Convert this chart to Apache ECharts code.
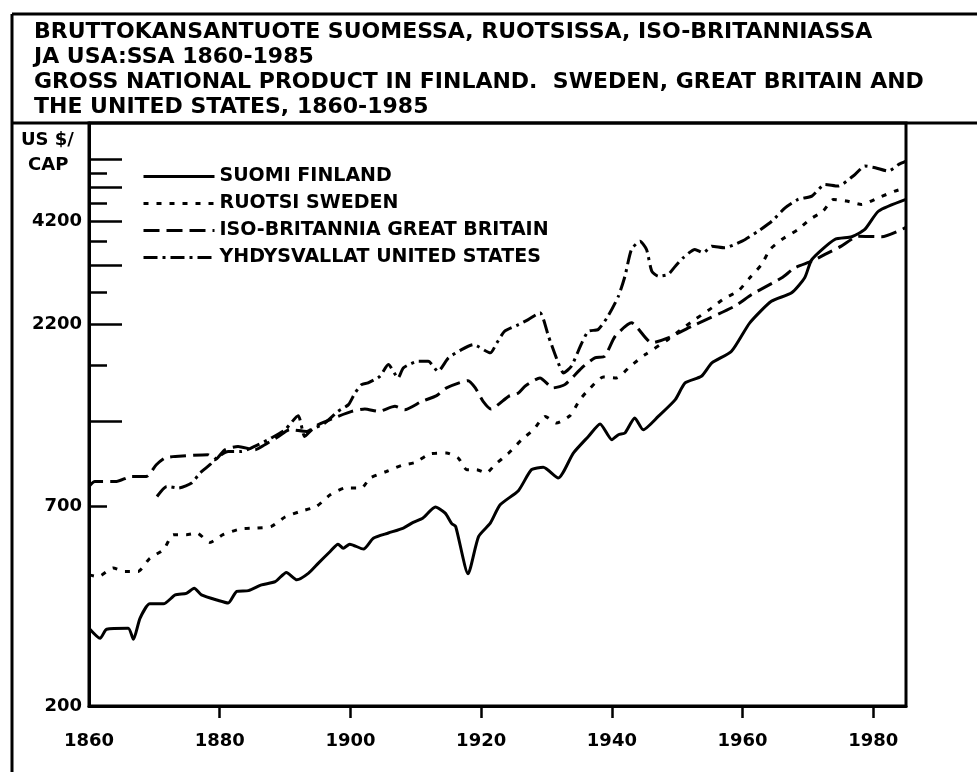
<!DOCTYPE html>
<html>
<head>
<meta charset="utf-8">
<script src="https://cdn.jsdelivr.net/npm/echarts@6/dist/echarts.min.js"></script>
<style>
html,body{margin:0;padding:0;background:#fff;}
#chart{width:977px;height:772px;}
</style>
</head>
<body>
<div id="chart"></div>
<script>
// ---- Data (US $ per capita) ----
const finlandYears = [1860,1861.7,1862.7,1866,1866.8,1867.8,1869.3,1871.4,1873.2,1874.9,1876.1,1877.2,1879.8,1881.3,1882.6,1884.4,1886.4,1888.5,1890.2,1891.8,1893.6,1895.1,1896.9,1898.1,1898.9,1899.9,1902.0,1903.5,1905.8,1908.1,1909.6,1911.1,1913.0,1914.5,1915.5,1916.1,1918.0,1919.6,1921.4,1922.9,1925.7,1927.7,1929.5,1931.8,1934.1,1936.4,1938.2,1940.0,1941.0,1942.0,1943.5,1944.8,1947.1,1949.7,1951.2,1953.7,1955.3,1958.3,1961.1,1964.4,1967.5,1969.5,1970.6,1974.1,1976.7,1978.7,1980.8,1985];
const finlandValues = [326,306,324,326,304,347,380,380,402,406,419,402,388,382,411,413,428,437,463,442,461,491,528,553,539,553,536,574,593,612,634,652,698,672,629,618,459,580,631,708,774,883,896,838,980,1088,1177,1066,1100,1112,1222,1135,1234,1371,1523,1588,1727,1858,2222,2544,2683,2949,3309,3752,3816,3996,4483,4826];

const swedenYears = [1860,1861.4,1863.7,1865.5,1867.5,1869.3,1871.4,1872.9,1874.9,1876.5,1878.5,1880.5,1883.1,1885.7,1887.9,1890.0,1892.3,1894.8,1896.9,1899.2,1901.7,1903.0,1905.5,1907.8,1909.9,1912.2,1914.7,1916.5,1917.8,1919.3,1920.8,1922.1,1924.1,1926.2,1928.0,1929.8,1931.5,1933.6,1935.1,1936.7,1938.7,1940.7,1942.8,1945.1,1948.6,1950.9,1952.7,1955.3,1957.3,1959.3,1961.1,1962.9,1964.2,1966.0,1968.5,1970.3,1972.3,1973.9,1975.9,1978.2,1980.8,1983.3,1985];
const swedenValues = [456,451,476,466,466,506,534,587,587,593,559,587,608,612,618,656,679,701,754,787,787,838,873,907,924,976,980,950,883,883,865,911,976,1066,1135,1234,1184,1240,1371,1476,1582,1572,1691,1820,2000,2152,2268,2442,2598,2710,2949,3206,3524,3752,3996,4256,4483,4826,4776,4676,4878,5084,5194];

const britainYears = [1860,1860.9,1864.2,1866.5,1868.8,1870.3,1871.6,1873.2,1878.2,1879.3,1880.8,1882.8,1885.4,1886.9,1889.0,1890.7,1893.3,1895.1,1898.1,1900.2,1902.2,1904.3,1906.8,1908.3,1910.9,1913.2,1914.7,1918.0,1919.1,1920.3,1921.5,1924.2,1925.7,1926.7,1929.0,1931.0,1932.8,1935.4,1937.4,1938.9,1940.5,1943.0,1946.1,1948.6,1952.2,1958.8,1961.4,1966.0,1968.0,1970.6,1972.6,1975.1,1977.7,1981.3,1985];
const britainValues = [795,820,820,846,846,911,950,960,970,940,1001,1022,1001,1033,1088,1135,1123,1172,1234,1274,1293,1274,1315,1287,1356,1406,1476,1545,1476,1356,1293,1400,1430,1491,1572,1476,1507,1674,1783,1801,2042,2222,1959,2021,2174,2467,2655,2949,3140,3274,3415,3598,3830,3816,4046];

const usaYears = [1870.4,1871.9,1873.7,1875.7,1877.0,1878.5,1879.5,1881.3,1883.3,1885.9,1887.9,1890.0,1892.0,1893.0,1894.1,1896.1,1898.1,1899.7,1900.7,1901.7,1902.7,1904.5,1905.8,1907.3,1908.1,1910.4,1911.9,1913.4,1915.0,1917.0,1918.8,1921.4,1922.4,1923.6,1925.7,1927.2,1929.0,1930.3,1931.6,1932.6,1933.8,1935.4,1936.4,1937.9,1939.4,1941.0,1942.0,1943.0,1944.3,1945.3,1946.1,1947.1,1948.6,1949.7,1950.9,1952.7,1954.0,1955.3,1957.3,1958.8,1960.4,1962.4,1964.5,1966.5,1968.5,1970.6,1972.6,1974.6,1977.2,1978.7,1980.3,1982.3,1983.9,1985];
const usaValues = [746,795,787,812,865,911,950,990,990,1033,1078,1135,1240,1088,1135,1184,1274,1329,1430,1507,1523,1588,1709,1572,1674,1745,1745,1638,1783,1878,1938,1840,1959,2108,2198,2268,2366,2042,1764,1622,1691,1959,2108,2130,2316,2626,2978,3524,3712,3524,3075,2978,3011,3171,3343,3524,3452,3598,3561,3637,3752,3953,4211,4578,4826,4928,5302,5246,5646,5950,5890,5766,6014,6140];

const seriesNames = ['SUOMI FINLAND','RUOTSI SWEDEN','ISO-BRITANNIA GREAT BRITAIN','YHDYSVALLAT UNITED STATES'];
const titleLines = [
  'BRUTTOKANSANTUOTE SUOMESSA, RUOTSISSA, ISO-BRITANNIASSA',
  'JA USA:SSA 1860-1985',
  'GROSS NATIONAL PRODUCT IN FINLAND.  SWEDEN, GREAT BRITAIN AND',
  'THE UNITED STATES, 1860-1985'
];
const yAxisUnit = ['US $/', 'CAP'];
const xLabelYears = [1860,1880,1900,1920,1940,1960,1980];
const xTickYears = [1880,1900,1920,1940,1960,1980];
const yLabelValues = [200,700,2200,4200];
const yLongTicks = [1200,2200,3200,4200,5200,6200];
const yShortTicks = [700,1700,2700,3700,4700,5700];

// ---- Chart ----
const FONT = 'DejaVu Sans';
const pairs = (xs, ys) => xs.map((x, i) => [x, ys[i]]);
const plain = v => String(Math.round(v));

const chart = echarts.init(document.getElementById('chart'), null, {renderer: 'canvas'});

function lineSeries(name, data, dash) {
  return {
    name: name,
    type: 'line',
    data: data,
    showSymbol: false,
    symbol: 'circle',
    smooth: 0.2,
    clip: true,
    lineStyle: {color: '#000', width: 3, type: dash},
    itemStyle: {color: '#000'},
    emphasis: {disabled: true},
    z: 3
  };
}

const option = {
  backgroundColor: '#fff',
  animation: false,
  title: {
    text: titleLines.join('\n'),
    left: 34,
    top: 20,
    padding: 0,
    textStyle: {fontFamily: FONT, fontWeight: 'bold', fontSize: 22, lineHeight: 25, color: '#000'}
  },
  legend: {
    orient: 'vertical',
    left: 142,
    top: 167,
    padding: 0,
    itemWidth: 71,
    itemHeight: 14,
    itemGap: 8,
    selectedMode: false,
    itemStyle: {color: 'rgba(0,0,0,0)', borderWidth: 0},
    lineStyle: {width: 3},
    textStyle: {fontFamily: FONT, fontWeight: 'bold', fontSize: 19, color: '#000'},
    data: seriesNames
  },
  grid: {
    left: 89, right: 71, top: 123, bottom: 66,
    show: true, borderColor: '#000', borderWidth: 3, backgroundColor: 'transparent'
  },
  xAxis: {
    type: 'value',
    min: 1860, max: 1985,
    axisLine: {show: true, lineStyle: {color: '#000', width: 3}},
    axisTick: {show: true, inside: false, length: 12, lineStyle: {color: '#000', width: 2.5}, customValues: xTickYears},
    axisLabel: {show: true, margin: 26, fontFamily: FONT, fontWeight: 'bold', fontSize: 18, color: '#000', customValues: xLabelYears, formatter: plain},
    splitLine: {show: false}
  },
  yAxis: [
    {
      type: 'log', logBase: 10, min: 200, max: 7800,
      axisLine: {show: true, lineStyle: {color: '#000', width: 3}},
      axisTick: {show: true, inside: true, length: 33, lineStyle: {color: '#000', width: 2.5}, customValues: yLongTicks},
      axisLabel: {show: true, margin: 7, fontFamily: FONT, fontWeight: 'bold', fontSize: 18, color: '#000', customValues: yLabelValues, formatter: plain},
      splitLine: {show: false},
      minorTick: {show: false}
    },
    {
      type: 'log', logBase: 10, min: 200, max: 7800, position: 'left', offset: 0,
      axisLine: {show: false},
      axisTick: {show: true, inside: true, length: 18, lineStyle: {color: '#000', width: 2.5}, customValues: yShortTicks},
      axisLabel: {show: false},
      splitLine: {show: false}
    }
  ],
  series: [
    lineSeries(seriesNames[0], pairs(finlandYears, finlandValues), 'solid'),
    lineSeries(seriesNames[1], pairs(swedenYears, swedenValues), [5, 8]),
    lineSeries(seriesNames[2], pairs(britainYears, britainValues), [16, 7]),
    lineSeries(seriesNames[3], pairs(usaYears, usaValues), [14, 5, 3, 5])
  ],
  graphic: [
    {type: 'line', shape: {x1: 12, y1: 14, x2: 977, y2: 14}, style: {stroke: '#000', lineWidth: 3}},
    {type: 'line', shape: {x1: 12, y1: 14, x2: 12, y2: 772}, style: {stroke: '#000', lineWidth: 3}},
    {type: 'line', shape: {x1: 12, y1: 123, x2: 977, y2: 123}, style: {stroke: '#000', lineWidth: 3}},
    {type: 'text', left: 21, top: 131, style: {text: yAxisUnit[0], font: 'bold 18px "DejaVu Sans"', fill: '#000'}},
    {type: 'text', left: 28, top: 156, style: {text: yAxisUnit[1], font: 'bold 18px "DejaVu Sans"', fill: '#000'}}
  ]
};
chart.setOption(option);
</script>
</body>
</html>
